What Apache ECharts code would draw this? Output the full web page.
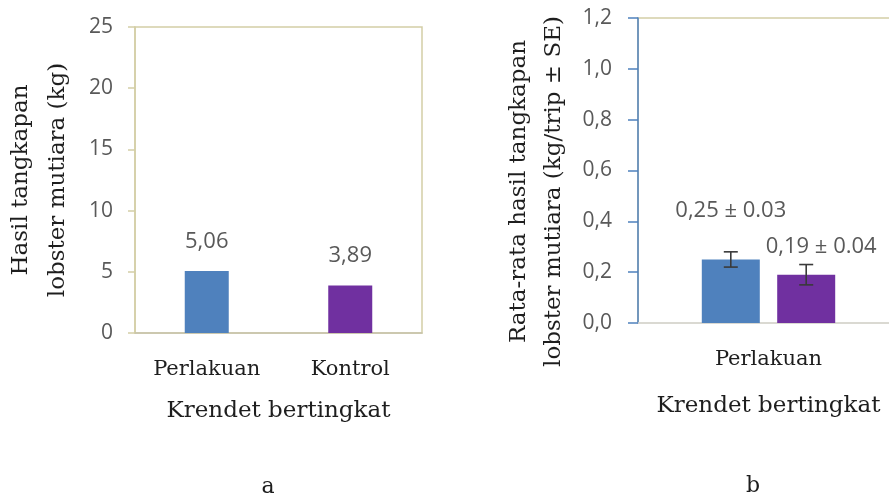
<!DOCTYPE html>
<html>
<head>
<meta charset="utf-8">
<script src="https://cdn.jsdelivr.net/npm/echarts@6/dist/echarts.min.js"></script>
<style>
  html, body { margin: 0; padding: 0; background: #ffffff; }
  #chart { width: 889px; height: 497px; }
</style>
</head>
<body>
<div id="chart"></div>
<script>
// Panel a: total pearl lobster catch per trap type (kg)
const categoriesA = ['Perlakuan', 'Kontrol'];
const catchKg = [5.06, 3.89];
const ticksA = [0, 5, 10, 15, 20, 25];

// Panel b: mean catch per trip (kg/trip) with standard error
const categoriesB = ['Perlakuan'];
const seriesNamesB = ['Perlakuan', 'Kontrol'];
const meanPerTrip = [0.25, 0.19];
const sePerTrip = [0.03, 0.04];
const ticksB = [0, 0.2, 0.4, 0.6, 0.8, 1.0, 1.2];

// Styling
const barColors = ['#4f81bd', '#7030a0'];
const serif = 'DejaVu Serif';
const sans = 'Open Sans';
const textDark = '#1e1e1e';
const tickGrey = '#595959';
const frameTan = '#d3cea6';
const barWidthB = 58;
const barGapB = 0.3;

const decimalComma = (v, d) => v.toFixed(d).replace('.', ',');

// Error bar drawn at the centre of a grouped bar
function errorBar(offsetPx) {
  return function (params, api) {
    const cat = api.value(0);
    const lo = api.coord([cat, api.value(1)]);
    const hi = api.coord([cat, api.value(2)]);
    const x = lo[0] + offsetPx;
    const half = 7;
    const st = { stroke: '#3a3a3a', lineWidth: 1.6 };
    return {
      type: 'group',
      children: [
        { type: 'line', shape: { x1: x, y1: hi[1], x2: x, y2: lo[1] }, style: st },
        { type: 'line', shape: { x1: x - half, y1: hi[1], x2: x + half, y2: hi[1] }, style: st },
        { type: 'line', shape: { x1: x - half, y1: lo[1], x2: x + half, y2: lo[1] }, style: st }
      ]
    };
  };
}

const groupStep = barWidthB * (1 + barGapB);
const labelPlacementB = [
  { distance: 39, offset: [0, 0] },
  { distance: 18, offset: [15, 0] }
];

const seriesB = seriesNamesB.map((name, i) => ({
  name: name,
  type: 'bar',
  xAxisIndex: 1,
  yAxisIndex: 1,
  barWidth: barWidthB,
  barGap: (barGapB * 100) + '%',
  itemStyle: { color: barColors[i] },
  label: {
    show: true,
    position: 'top',
    distance: labelPlacementB[i].distance,
    offset: labelPlacementB[i].offset,
    fontFamily: sans,
    fontSize: 22,
    lineHeight: 20,
    color: tickGrey,
    formatter: () => decimalComma(meanPerTrip[i], 2) + ' \u00b1 ' + sePerTrip[i].toFixed(2)
  },
  data: [meanPerTrip[i]]
}));

const errorSeriesB = seriesNamesB.map((name, i) => ({
  name: name + ' SE',
  type: 'custom',
  xAxisIndex: 1,
  yAxisIndex: 1,
  z: 5,
  renderItem: errorBar((i - (seriesNamesB.length - 1) / 2) * groupStep),
  data: [[0, meanPerTrip[i] - sePerTrip[i], meanPerTrip[i] + sePerTrip[i]]]
}));

const chart = echarts.init(document.getElementById('chart'), null, { renderer: 'canvas' });

chart.setOption({
  animation: false,
  backgroundColor: '#ffffff',
  grid: [
    { left: 135, top: 27, width: 287, height: 306, outerBoundsMode: 'none', show: true, borderColor: frameTan, borderWidth: 1.5, backgroundColor: 'transparent' },
    { left: 638, top: 18, width: 261, height: 305, outerBoundsMode: 'none', show: true, borderColor: frameTan, borderWidth: 1.5, backgroundColor: 'transparent' }
  ],
  xAxis: [
    {
      gridIndex: 0,
      type: 'category',
      data: categoriesA,
      name: 'Krendet bertingkat',
      nameLocation: 'middle',
      nameGap: 66,
      nameTextStyle: { fontFamily: serif, fontSize: 23, lineHeight: 24, color: textDark },
      axisLine: { lineStyle: { color: '#c6c2aa', width: 1.5 } },
      axisTick: { show: false },
      axisLabel: { margin: 27, fontFamily: serif, fontSize: 21, lineHeight: 20, color: textDark }
    },
    {
      gridIndex: 1,
      type: 'category',
      data: categoriesB,
      name: 'Krendet bertingkat',
      nameLocation: 'middle',
      nameGap: 71,
      nameTextStyle: { fontFamily: serif, fontSize: 23, lineHeight: 24, color: textDark },
      axisLine: { lineStyle: { color: '#d9d9d9', width: 1.5 } },
      axisTick: { show: false },
      axisLabel: { margin: 27, fontFamily: serif, fontSize: 21, lineHeight: 20, color: textDark }
    }
  ],
  yAxis: [
    {
      gridIndex: 0,
      type: 'value',
      min: ticksA[0],
      max: ticksA[ticksA.length - 1],
      interval: ticksA[1] - ticksA[0],
      name: 'Hasil tangkapan\nlobster mutiara (kg)',
      nameLocation: 'middle',
      nameRotate: 90,
      nameGap: 58,
      nameTextStyle: { fontFamily: serif, fontSize: 23, lineHeight: 37, color: textDark },
      axisLine: { show: true, lineStyle: { color: frameTan, width: 1.5 } },
      axisTick: { show: true, length: 7, lineStyle: { color: frameTan, width: 1.5 } },
      axisLabel: { margin: 22, fontFamily: sans, fontSize: 21, color: tickGrey },
      splitLine: { show: false }
    },
    {
      gridIndex: 1,
      type: 'value',
      min: ticksB[0],
      max: ticksB[ticksB.length - 1],
      interval: 0.2,
      name: 'Rata-rata hasil tangkapan\nlobster mutiara (kg/trip \u00b1 SE)',
      nameLocation: 'middle',
      nameRotate: 90,
      nameGap: 66,
      nameTextStyle: { fontFamily: serif, fontSize: 23, lineHeight: 35, color: textDark, padding: [0, 42, 0, 0] },
      axisLine: { show: true, lineStyle: { color: '#4f81bd', width: 1.5 } },
      axisTick: { show: true, length: 10, lineStyle: { color: '#4f81bd', width: 1.5 } },
      axisLabel: { margin: 26, fontFamily: sans, fontSize: 21, color: tickGrey, formatter: v => decimalComma(v, 1) },
      splitLine: { show: false }
    }
  ],
  series: [
    {
      name: 'Hasil tangkapan',
      type: 'bar',
      xAxisIndex: 0,
      yAxisIndex: 0,
      barWidth: 44,
      label: {
        show: true,
        position: 'top',
        distance: 19.5,
        fontFamily: sans,
        fontSize: 22,
        lineHeight: 20,
        color: tickGrey,
        formatter: p => decimalComma(p.value, 2)
      },
      data: catchKg.map((v, i) => ({ value: v, itemStyle: { color: barColors[i] } }))
    },
    ...seriesB,
    ...errorSeriesB
  ],
  graphic: [
    { type: 'text', x: 268, y: 487, style: { text: 'a', font: '22px "DejaVu Serif"', fill: textDark, align: 'center', verticalAlign: 'middle' } },
    { type: 'text', x: 753, y: 486, style: { text: 'b', font: '22px "DejaVu Serif"', fill: textDark, align: 'center', verticalAlign: 'middle' } }
  ]
});
</script>
</body>
</html>
